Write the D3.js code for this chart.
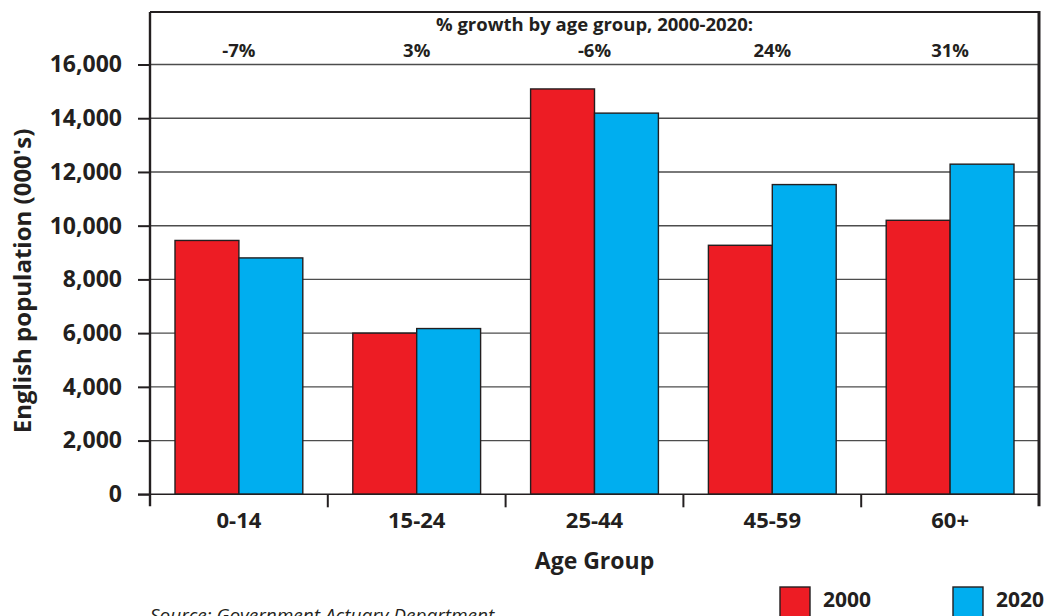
<!DOCTYPE html>
<html>
<head>
<meta charset="utf-8">
<script src="https://cdn.jsdelivr.net/npm/d3@7"></script>
<style>
  body { margin: 0; background: #fff; }
  text { font-family: "Open Sans", Lato, sans-serif; fill: #231f20; }
</style>
</head>
<body>
<svg id="chart" width="1048" height="616"></svg>
<script>
// data
var groups = ["0-14", "15-24", "25-44", "45-59", "60+"];
var years = ["2000", "2020"];
var pop2000 = [9450, 6000, 15090, 9270, 10200];
var pop2020 = [8800, 6170, 14190, 11530, 12290];
var growth = ["-7%", "3%", "-6%", "24%", "31%"];
var yTicks = [0, 2000, 4000, 6000, 8000, 10000, 12000, 14000, 16000];

var colors = { "2000": "#ed1c24", "2020": "#00aeef" };

var svg = d3.select("#chart"),
    width = +svg.attr("width"),
    height = +svg.attr("height");

var plotLeft = 150, plotRight = 1039, plotTop = 12, plotBottom = 494.3;

var x = d3.scaleBand().domain(groups).range([plotLeft, plotRight]);
var x1 = d3.scaleBand().domain(years).range([25, x.bandwidth() - 25]);
var y = d3.scaleLinear().domain([0, 16000]).range([plotBottom, 64.5]);

var rows = groups.map(function(g, i) {
  return { group: g, values: [
    { year: "2000", value: pop2000[i] },
    { year: "2020", value: pop2020[i] }
  ] };
});

// gridlines
svg.append("g")
    .attr("class", "grid")
  .selectAll("line")
  .data(yTicks.filter(function(d) { return d > 0; }))
  .enter().append("line")
    .attr("x1", plotLeft)
    .attr("x2", plotRight)
    .attr("y1", function(d) { return y(d); })
    .attr("y2", function(d) { return y(d); })
    .attr("stroke", "#4d4d4d")
    .attr("stroke-width", 1.4);

// bars
var grp = svg.append("g")
    .attr("class", "bars")
  .selectAll("g")
  .data(rows)
  .enter().append("g")
    .attr("transform", function(d) { return "translate(" + x(d.group) + ",0)"; });

grp.selectAll("rect")
  .data(function(d) { return d.values; })
  .enter().append("rect")
    .attr("x", function(d) { return x1(d.year); })
    .attr("width", x1.bandwidth())
    .attr("y", function(d) { return y(d.value); })
    .attr("height", function(d) { return plotBottom - y(d.value); })
    .attr("fill", function(d) { return colors[d.year]; })
    .attr("stroke", "#231f20")
    .attr("stroke-width", 1.4);

// baseline + x ticks at group boundaries
svg.append("line")
    .attr("x1", plotLeft - 12).attr("x2", plotRight)
    .attr("y1", plotBottom).attr("y2", plotBottom)
    .attr("stroke", "#231f20").attr("stroke-width", 1.6);

var bounds = groups.map(function(g) { return x(g); }).concat([plotRight]);
svg.append("g")
  .selectAll("line")
  .data(bounds.slice(1, -1))
  .enter().append("line")
    .attr("x1", function(d) { return d; })
    .attr("x2", function(d) { return d; })
    .attr("y1", plotBottom)
    .attr("y2", plotBottom + 13)
    .attr("stroke", "#231f20")
    .attr("stroke-width", 2);

// frame: left axis, top, right
svg.append("line")
    .attr("x1", plotLeft).attr("x2", plotLeft)
    .attr("y1", plotTop).attr("y2", plotBottom + 12)
    .attr("stroke", "#231f20").attr("stroke-width", 2.4);
svg.append("line")
    .attr("x1", plotLeft).attr("x2", plotRight + 1)
    .attr("y1", plotTop).attr("y2", plotTop)
    .attr("stroke", "#231f20").attr("stroke-width", 2);
svg.append("line")
    .attr("x1", plotRight).attr("x2", plotRight)
    .attr("y1", plotTop - 1).attr("y2", plotBottom + 12)
    .attr("stroke", "#231f20").attr("stroke-width", 3);

// y axis
var yAxis = svg.append("g")
    .attr("transform", "translate(" + plotLeft + ",0)")
    .call(d3.axisLeft(y)
      .tickValues(yTicks)
      .tickSize(12)
      .tickPadding(16)
      .tickFormat(d3.format(",")));
yAxis.select(".domain").remove();
yAxis.selectAll(".tick line").attr("stroke", "#231f20").attr("stroke-width", 2);
yAxis.selectAll(".tick text")
    .style("font-family", "'Open Sans', sans-serif")
    .style("font-size", "23px")
    .style("font-weight", "bold")
    .attr("fill", "#231f20");

// x labels
svg.append("g")
  .selectAll("text")
  .data(groups)
  .enter().append("text")
    .attr("x", function(d) { return x(d) + x.bandwidth() / 2; })
    .attr("y", 528)
    .attr("text-anchor", "middle")
    .style("font-size", "22px")
    .style("font-weight", "bold")
    .text(function(d) { return d; });

svg.append("text")
    .attr("x", (plotLeft + plotRight) / 2)
    .attr("y", 569)
    .attr("text-anchor", "middle")
    .style("font-size", "23px")
    .style("font-weight", "bold")
    .text("Age Group");

svg.append("text")
    .attr("transform", "translate(31,281) rotate(-90)")
    .attr("text-anchor", "middle")
    .style("font-size", "24px")
    .style("font-weight", "bold")
    .text("English population (000's)");

// growth header
svg.append("text")
    .attr("x", (plotLeft + plotRight) / 2)
    .attr("y", 31)
    .attr("text-anchor", "middle")
    .style("font-size", "18.5px")
    .style("font-weight", "bold")
    .text("% growth by age group, 2000-2020:");

svg.append("g")
  .selectAll("text")
  .data(growth)
  .enter().append("text")
    .attr("x", function(d, i) { return x(groups[i]) + x.bandwidth() / 2; })
    .attr("y", 57)
    .attr("text-anchor", "middle")
    .style("font-size", "18.5px")
    .style("font-weight", "bold")
    .text(function(d) { return d; });

// legend
var legend = svg.append("g")
  .selectAll("g")
  .data(years)
  .enter().append("g")
    .attr("transform", function(d, i) { return "translate(" + (780 + i * 173) + ",587)"; });
legend.append("rect")
    .attr("width", 30)
    .attr("height", 40)
    .attr("fill", function(d) { return colors[d]; })
    .attr("stroke", "#231f20")
    .attr("stroke-width", 1.4);
legend.append("text")
    .attr("x", 43)
    .attr("y", 20)
    .style("font-size", "21px")
    .style("font-weight", "bold")
    .text(function(d) { return d; });

// source
svg.append("text")
    .attr("x", 150)
    .attr("y", 622)
    .style("font-size", "19px")
    .style("font-style", "italic")
    .text("Source: Government Actuary Department");
</script>
</body>
</html>
